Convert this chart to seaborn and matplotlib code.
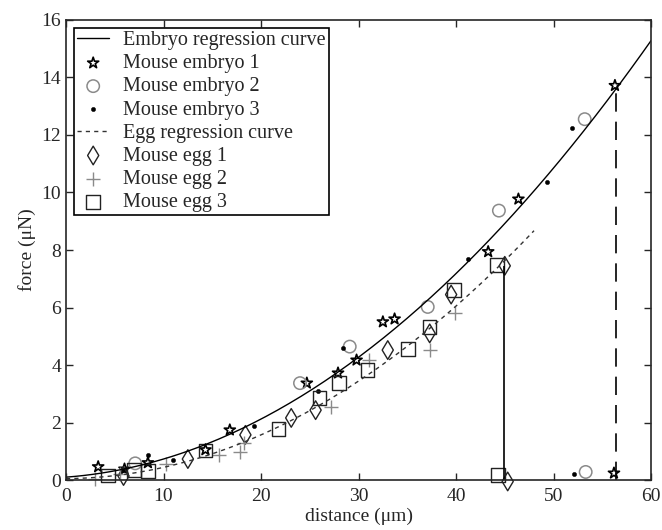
import numpy as np
import pandas as pd
import seaborn as sns
import matplotlib
matplotlib.use("Agg")
import matplotlib.pyplot as plt

# values
emb1_x = [3.3, 6.0, 8.4, 14.3, 16.8, 24.7, 27.9, 29.8, 32.5, 33.7, 43.3, 46.4, 56.3, 56.2]
emb1_y = [0.46, 0.38, 0.6, 1.05, 1.74, 3.37, 3.72, 4.17, 5.5, 5.6, 7.94, 9.77, 13.72, 0.24]
emb2_x = [7.1, 24.0, 29.1, 37.1, 44.4, 53.2, 53.3]
emb2_y = [0.58, 3.37, 4.64, 6.02, 9.37, 12.55, 0.28]
emb3_x = [5.9, 8.4, 11.0, 19.3, 25.8, 28.4, 41.2, 49.3, 51.9, 52.1]
emb3_y = [0.35, 0.88, 0.7, 1.88, 3.1, 4.59, 7.69, 10.37, 12.24, 0.21]
egg1_x = [5.9, 12.5, 18.4, 23.1, 25.6, 33.0, 37.3, 39.5, 45.0, 45.3]
egg1_y = [0.14, 0.73, 1.57, 2.16, 2.43, 4.52, 5.1, 6.45, 7.45, -0.05]
egg2_x = [3.0, 5.5, 10.3, 15.7, 17.8, 18.3, 27.2, 31.1, 37.3, 39.9]
egg2_y = [0.02, 0.2, 0.56, 0.87, 0.99, 1.3, 2.54, 4.17, 4.52, 5.82]
egg3_x = [4.3, 7.0, 8.4, 14.3, 21.8, 26.0, 28.0, 30.9, 35.1, 37.3, 39.8, 44.2, 44.3]
egg3_y = [0.15, 0.35, 0.32, 1.02, 1.77, 2.85, 3.37, 3.83, 4.55, 5.33, 6.6, 7.48, 0.17]

# regression curves (quadratic coefficients, highest power first) and their x range
embryo_coef = [0.0038, 0.025, 0.1]
embryo_range = [0, 60]
egg_coef = [0.0037, 0.002, 0.05]
egg_range = [0, 48]

# drop lines at the final indentations
drop_x = [44.9, 56.4]
drop_top = [7.45, 13.7]

sns.set_style("ticks")
plt.rcParams["font.family"] = ["Liberation Serif", "DejaVu Serif"]

fig = plt.figure(figsize=(6.62, 5.3), dpi=100)
ax = fig.add_axes([0.0997, 0.0943, 0.8837, 0.868])

xe = np.linspace(embryo_range[0], embryo_range[1], 200)
xg = np.linspace(egg_range[0], egg_range[1], 200)
sns.lineplot(x=xe, y=np.polyval(embryo_coef, xe), color="black", lw=1.0,
             ax=ax, label="Embryo regression curve", legend=False)

sns.scatterplot(x=emb1_x, y=emb1_y, marker="*", s=70, facecolor="none",
                edgecolor="black", linewidth=1.2, ax=ax, label="Mouse embryo 1", legend=False)
sns.scatterplot(x=emb2_x, y=emb2_y, marker="o", s=80, facecolor="none",
                edgecolor="#8a8a8a", linewidth=1.1, ax=ax, label="Mouse embryo 2", legend=False)
sns.scatterplot(x=emb3_x, y=emb3_y, marker="o", s=10, color="black",
                edgecolor="black", ax=ax, label="Mouse embryo 3", legend=False)

sns.lineplot(x=xg, y=np.polyval(egg_coef, xg), color="#333333", lw=1.0,
             ax=ax, label="Egg regression curve", legend=False)
ax.lines[-1].set_dashes([3, 3])

sns.scatterplot(x=egg1_x, y=egg1_y, marker="d", s=90, facecolor="none",
                edgecolor="#222222", linewidth=1.0, ax=ax, label="Mouse egg 1", legend=False)
sns.scatterplot(x=egg2_x, y=egg2_y, marker="+", s=90, color="#8a8a8a",
                linewidth=1.0, ax=ax, label="Mouse egg 2", legend=False)
sns.scatterplot(x=egg3_x, y=egg3_y, marker="s", s=95, facecolor="none",
                edgecolor="#222222", linewidth=1.0, ax=ax, label="Mouse egg 3", legend=False)

ax.vlines(drop_x[0], 0, drop_top[0], color="black", lw=1.2)
ax.vlines(drop_x[1], 0, drop_top[1], color="black", lw=1.2, linestyles=(0, (11, 6)))

for c in ax.collections:
    c.set_clip_on(False)

ax.set_xlim(0, 60)
ax.set_ylim(0, 16)
ax.set_xticks(range(0, 61, 10))
ax.set_yticks(range(0, 17, 2))
ax.tick_params(direction="in", top=True, right=True, labelsize=14, length=5, width=1)
ax.tick_params(axis="x", pad=6)
for sp in ax.spines.values():
    sp.set_visible(True)
    sp.set_linewidth(1.2)
ax.set_xlabel("distance (μm)", fontsize=14, labelpad=2)
ax.set_ylabel("force (μN)", fontsize=14, labelpad=4)

leg = ax.legend(loc="upper left", fontsize=14.5, labelspacing=0.2, handlelength=1.6,
                handletextpad=0.7, borderpad=0.15, fancybox=False, framealpha=1,
                edgecolor="black", borderaxespad=0.4)
leg.get_frame().set_linewidth(1.2)

fig.savefig("out.png", dpi=100)
